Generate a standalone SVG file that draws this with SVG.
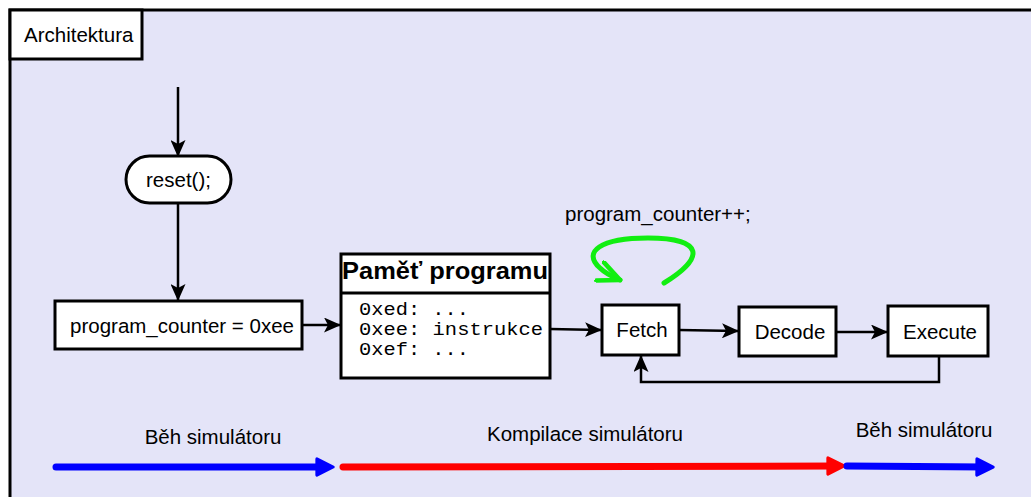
<svg xmlns="http://www.w3.org/2000/svg" width="1031" height="497" viewBox="0 0 1031 497">
  <style>
    .box { fill: #ffffff; stroke: #000000; stroke-width: 3; }
    .lbl { font-family: "Liberation Sans", Arial, sans-serif; font-size: 20.5px; fill: #000000; }
    .mono { font-family: "Liberation Mono", "Courier New", monospace; font-size: 18.5px; fill: #000000; }
    .title { font-family: "Liberation Sans", Arial, sans-serif; font-size: 23px; font-weight: bold; fill: #000000; }
    .edge { fill: none; stroke: #000000; stroke-width: 2.5; marker-end: url(#arrow); }
    .phase { fill: none; stroke-width: 7; stroke-linecap: round; }
  </style>
  <defs>
    <marker id="arrow" viewBox="0 0 17 15" refX="16" refY="7.5" markerWidth="17" markerHeight="15" markerUnits="userSpaceOnUse" orient="auto">
      <path d="M0,0 L17,7.5 L0,15 L4,7.5 Z" fill="#000000"/>
    </marker>
    <marker id="arrowGreen" viewBox="0 0 14 12" refX="12" refY="6" markerWidth="5.5" markerHeight="4.7" orient="auto">
      <path d="M1,1 L12,6 L1,11" fill="none" stroke="#11ee11" stroke-width="2.4" stroke-linecap="round" stroke-linejoin="round"/>
    </marker>
    <marker id="headBlue" viewBox="0 0 10 10" refX="5" refY="5" markerWidth="2.9" markerHeight="2.9" orient="auto">
      <path d="M1,1 L9,5 L1,9 Z" fill="#0000ff" stroke="#0000ff" stroke-width="1.5" stroke-linejoin="round"/>
    </marker>
    <marker id="headRed" viewBox="0 0 10 10" refX="5" refY="5" markerWidth="2.9" markerHeight="2.9" orient="auto">
      <path d="M1,1 L9,5 L1,9 Z" fill="#ff0000" stroke="#ff0000" stroke-width="1.5" stroke-linejoin="round"/>
    </marker>
  </defs>

  <!-- canvas and frame -->
  <rect x="0" y="0" width="1031" height="497" fill="#ffffff"/>
  <rect x="10" y="10" width="1030" height="500" fill="#e4e4f8" stroke="#000000" stroke-width="3"/>

  <g id="frame-title">
    <rect class="box" x="10" y="10" width="132" height="49"/>
    <text class="lbl" x="24" y="42">Architektura</text>
  </g>

  <g id="connectors">
    <line class="edge" x1="178" y1="87" x2="178" y2="156"/>
    <line class="edge" x1="178" y1="203" x2="178" y2="300"/>
    <line class="edge" x1="302" y1="325" x2="340" y2="325"/>
    <line class="edge" x1="550" y1="329" x2="601" y2="330"/>
    <line class="edge" x1="679" y1="330" x2="738" y2="331"/>
    <line class="edge" x1="836" y1="332" x2="887" y2="332"/>
    <polyline class="edge" points="939,356 939,382 641,382 641,356"/>
    <!-- increment loop above Fetch -->
    <path d="M664,283 C705,258 705,238 648,238 C600,238 582,252 600,268 C606,274 613,277 620,280" fill="none" stroke="#11ee11" stroke-width="5" stroke-linecap="round" marker-end="url(#arrowGreen)"/>
  </g>

  <g id="reset">
    <rect class="box" x="126" y="156" width="105" height="47" rx="23.5" ry="23.5"/>
    <text class="lbl" x="178.5" y="187" text-anchor="middle">reset();</text>
  </g>

  <g id="pc-init">
    <rect class="box" x="55" y="301" width="247" height="48"/>
    <text class="lbl" x="182" y="333" text-anchor="middle">program_counter = 0xee</text>
  </g>

  <g id="memory">
    <rect class="box" x="341" y="254" width="209" height="124"/>
    <line x1="341" y1="293" x2="550" y2="293" stroke="#000000" stroke-width="3"/>
    <text class="title" x="342" y="279" textLength="206" lengthAdjust="spacingAndGlyphs">Paměť programu</text>
    <text class="mono" x="359" y="315" textLength="110" lengthAdjust="spacingAndGlyphs">0xed: ...</text>
    <text class="mono" x="359" y="335" textLength="184" lengthAdjust="spacingAndGlyphs">0xee: instrukce</text>
    <text class="mono" x="359" y="355" textLength="110" lengthAdjust="spacingAndGlyphs">0xef: ...</text>
  </g>

  <g id="fetch">
    <rect class="box" x="602" y="305" width="77" height="50"/>
    <text class="lbl" x="642" y="337" text-anchor="middle">Fetch</text>
  </g>

  <g id="decode">
    <rect class="box" x="739" y="307" width="97" height="49"/>
    <text class="lbl" x="790" y="339" text-anchor="middle">Decode</text>
  </g>

  <g id="execute">
    <rect class="box" x="888" y="306" width="100" height="50"/>
    <text class="lbl" x="940" y="339" text-anchor="middle">Execute</text>
  </g>

  <g id="pc-increment-label">
    <text class="lbl" x="565" y="221">program_counter++;</text>
  </g>

  <g id="phases">
    <line class="phase" stroke="#0000ff" x1="56" y1="467" x2="325" y2="467" marker-end="url(#headBlue)"/>
    <line class="phase" stroke="#ff0000" x1="343" y1="467" x2="836" y2="466" marker-end="url(#headRed)"/>
    <line class="phase" stroke="#0000ff" x1="847" y1="466" x2="985" y2="467" marker-end="url(#headBlue)"/>
    <text class="lbl" x="213" y="444" text-anchor="middle">Běh simulátoru</text>
    <text class="lbl" x="585" y="441" text-anchor="middle">Kompilace simulátoru</text>
    <text class="lbl" x="924" y="437" text-anchor="middle">Běh simulátoru</text>
  </g>
</svg>
